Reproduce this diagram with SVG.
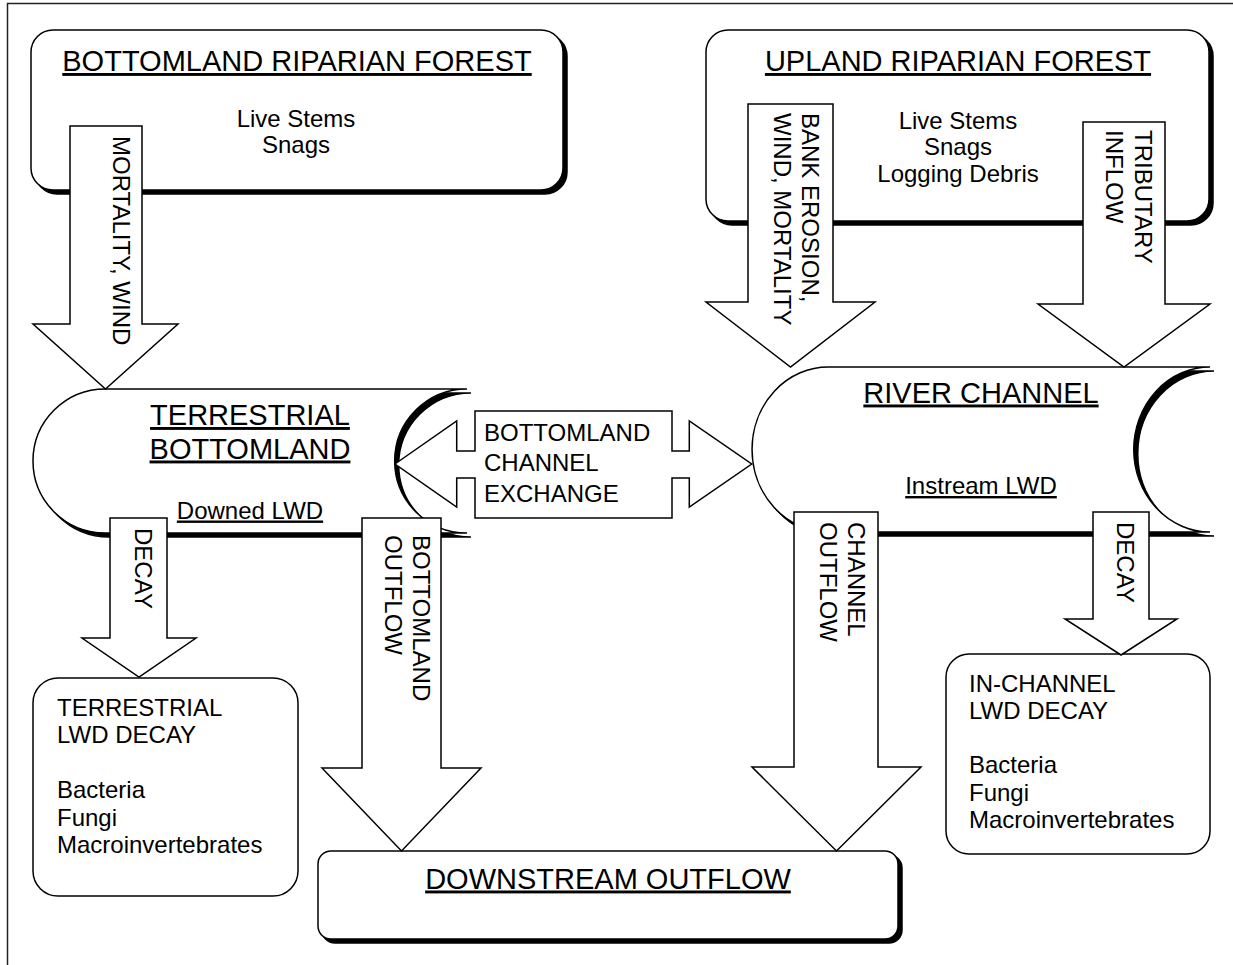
<svg xmlns="http://www.w3.org/2000/svg" width="1233" height="965" viewBox="0 0 1233 965">
<style>
.bg{fill:#fff}
.frame{fill:none;stroke:#222;stroke-width:1.5}
.box{fill:#fff;stroke:#000;stroke-width:1.5}
.sh{fill:#000;stroke:#000;stroke-width:1.5}
.arrow{fill:#fff;stroke:#000;stroke-width:1.5;stroke-linejoin:miter}
.t{font-family:"Liberation Sans",Arial,Helvetica,sans-serif;font-size:24px;fill:#000}
.c{text-anchor:middle}
.ttl{font-size:29px;text-decoration:underline}
.u{text-decoration:underline}
</style>
<rect class="bg" x="0" y="0" width="1233" height="965"/>
<rect class="frame" x="7.5" y="3.5" width="1240" height="1000"/>

<g id="bottomland-riparian-forest">
  <rect class="sh" x="35" y="34" width="532" height="160" rx="22"/>
  <rect class="box" x="31" y="30" width="532" height="160" rx="22"/>
  <text class="t c ttl" x="297" y="71">BOTTOMLAND RIPARIAN FOREST</text>
  <text class="t c" x="296" y="126.5">Live Stems</text>
  <text class="t c" x="296" y="153">Snags</text>
</g>

<g id="upland-riparian-forest">
  <rect class="sh" x="710" y="34" width="503" height="191" rx="22"/>
  <rect class="box" x="706" y="30" width="503" height="191" rx="22"/>
  <text class="t c ttl" x="958" y="71">UPLAND RIPARIAN FOREST</text>
  <text class="t c" x="958" y="128.5">Live Stems</text>
  <text class="t c" x="958" y="155">Snags</text>
  <text class="t c" x="958" y="181.5">Logging Debris</text>
</g>

<g id="terrestrial-bottomland">
  <path class="sh" transform="translate(4,4)" d="M105.3,389 L467,389 A72.3,72 0 0 0 467,533 L105.3,533 A72.3,72 0 0 1 105.3,389 Z"/>
  <path class="box" d="M105.3,389 L467,389 A72.3,72 0 0 0 467,533 L105.3,533 A72.3,72 0 0 1 105.3,389 Z"/>
  <text class="t c ttl" x="250" y="425">TERRESTRIAL</text>
  <text class="t c ttl" x="250" y="458.5">BOTTOMLAND</text>
  <text class="t c u" x="250" y="518.5">Downed LWD</text>
</g>

<g id="river-channel">
  <path class="sh" transform="translate(4,4)" d="M828.3,367 L1210,367 A76.3,82.5 0 0 0 1210,532 L828.3,532 A76.3,82.5 0 0 1 828.3,367 Z"/>
  <path class="box" d="M828.3,367 L1210,367 A76.3,82.5 0 0 0 1210,532 L828.3,532 A76.3,82.5 0 0 1 828.3,367 Z"/>
  <text class="t c ttl" x="981" y="402.5">RIVER CHANNEL</text>
  <text class="t c u" x="981" y="494">Instream LWD</text>
</g>

<g id="terrestrial-lwd-decay">
  <rect class="box" x="33" y="678" width="265" height="218" rx="25"/>
  <text class="t" x="57" y="716">TERRESTRIAL</text>
  <text class="t" x="57" y="743.4">LWD DECAY</text>
  <text class="t" x="57" y="798.2">Bacteria</text>
  <text class="t" x="57" y="825.6">Fungi</text>
  <text class="t" x="57" y="853">Macroinvertebrates</text>
</g>

<g id="in-channel-lwd-decay">
  <rect class="box" x="946" y="654" width="264" height="200" rx="23"/>
  <text class="t" x="969" y="691.5">IN-CHANNEL</text>
  <text class="t" x="969" y="718.8">LWD DECAY</text>
  <text class="t" x="969" y="773.4">Bacteria</text>
  <text class="t" x="969" y="800.7">Fungi</text>
  <text class="t" x="969" y="828">Macroinvertebrates</text>
</g>

<g id="downstream-outflow">
  <rect class="sh" x="322" y="855" width="580" height="88" rx="13"/>
  <rect class="box" x="318" y="851" width="580" height="88" rx="13"/>
  <text class="t c ttl" x="608" y="888.5">DOWNSTREAM OUTFLOW</text>
</g>

<g id="connectors">
  <g id="arrow-mortality-wind">
    <polygon class="arrow" points="70,126 142,126 142,324 178,324 105.5,389 33,324 70,324"/>
    <text class="t" transform="translate(113,136) rotate(90)">MORTALITY, WIND</text>
  </g>
  <g id="arrow-bank-erosion">
    <polygon class="arrow" points="748,104 833,104 833,302 875,302 790.5,367 706,302 748,302"/>
    <text class="t" transform="translate(802,113) rotate(90)">BANK EROSION,</text>
    <text class="t" transform="translate(774,113) rotate(90)">WIND, MORTALITY</text>
  </g>
  <g id="arrow-tributary-inflow">
    <polygon class="arrow" points="1083,122 1165,122 1165,304 1210,304 1124,367 1038,304 1083,304"/>
    <text class="t" transform="translate(1135,130) rotate(90)">TRIBUTARY</text>
    <text class="t" transform="translate(1106,130) rotate(90)">INFLOW</text>
  </g>
  <g id="arrow-exchange">
    <polygon class="arrow" points="395,464 456.7,421 456.7,451 475,451 475,411 672,411 672,451 689.3,451 689.3,421 751.7,464 689.3,507 689.3,478 672,478 672,518 475,518 475,478 456.7,478 456.7,507"/>
    <text class="t" x="484" y="440.5">BOTTOMLAND</text>
    <text class="t" x="484" y="471">CHANNEL</text>
    <text class="t" x="484" y="501.5">EXCHANGE</text>
  </g>
  <g id="arrow-decay-terrestrial">
    <polygon class="arrow" points="110,518 167,518 167,638 196,638 139,677 82,638 110,638"/>
    <text class="t" transform="translate(135,528) rotate(90)">DECAY</text>
  </g>
  <g id="arrow-bottomland-outflow">
    <polygon class="arrow" points="362,518 441,518 441,768 481,768 401.5,851 322,768 362,768"/>
    <text class="t" transform="translate(413,535) rotate(90)">BOTTOMLAND</text>
    <text class="t" transform="translate(385,535) rotate(90)">OUTFLOW</text>
  </g>
  <g id="arrow-channel-outflow">
    <polygon class="arrow" points="794,512 878,512 878,767 921,767 836.5,851 752,767 794,767"/>
    <text class="t" transform="translate(848,522) rotate(90)">CHANNEL</text>
    <text class="t" transform="translate(820,522) rotate(90)">OUTFLOW</text>
  </g>
  <g id="arrow-decay-channel">
    <polygon class="arrow" points="1093,512 1149,512 1149,619 1177,619 1121,655 1065,619 1093,619"/>
    <text class="t" transform="translate(1117,522) rotate(90)">DECAY</text>
  </g>
</g>
</svg>
